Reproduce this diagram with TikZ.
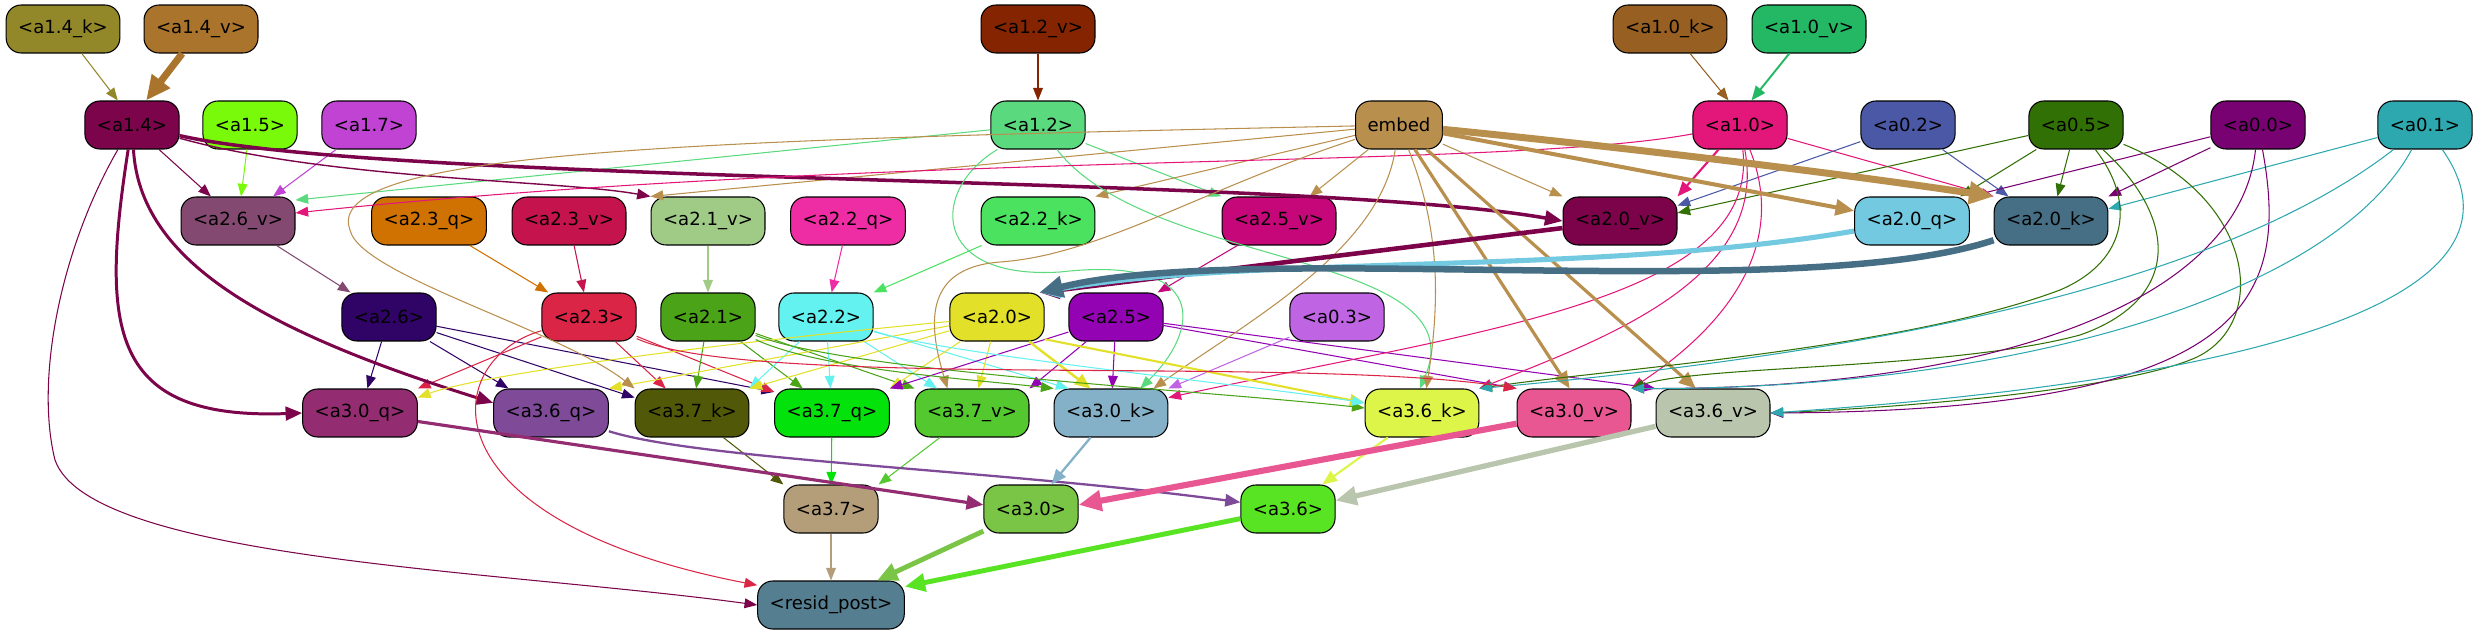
\documentclass[tikz,border=0pt]{standalone}
\usepackage{fontspec}
\setmainfont{DejaVu Sans}
\usetikzlibrary{arrows.meta}

% node colours (edges take the colour of their source node)
\definecolor{a14k}{HTML}{938829}
\definecolor{a14v}{HTML}{AB742D}
\definecolor{a12v}{HTML}{842400}
\definecolor{a10k}{HTML}{975F22}
\definecolor{a10v}{HTML}{25B864}
\definecolor{a14}{HTML}{7B044A}
\definecolor{a15}{HTML}{79FA0A}
\definecolor{a17}{HTML}{C043D3}
\definecolor{a12}{HTML}{5BD97E}
\definecolor{embed}{HTML}{B98F4E}
\definecolor{a10}{HTML}{E3167A}
\definecolor{a02}{HTML}{4A58A6}
\definecolor{a05}{HTML}{317004}
\definecolor{a00}{HTML}{780272}
\definecolor{a01}{HTML}{2EA8AF}
\definecolor{a26v}{HTML}{834970}
\definecolor{a23q}{HTML}{CF7201}
\definecolor{a23v}{HTML}{C4134D}
\definecolor{a21v}{HTML}{A0CB87}
\definecolor{a22q}{HTML}{EE2DA4}
\definecolor{a22k}{HTML}{4AE25E}
\definecolor{a25v}{HTML}{C5077A}
\definecolor{a20v}{HTML}{7C034A}
\definecolor{a20q}{HTML}{73C9DF}
\definecolor{a20k}{HTML}{466E84}
\definecolor{a26}{HTML}{300466}
\definecolor{a23}{HTML}{DA2547}
\definecolor{a21}{HTML}{4BA318}
\definecolor{a22}{HTML}{63F2F0}
\definecolor{a20}{HTML}{E2E028}
\definecolor{a25}{HTML}{9303B3}
\definecolor{a03}{HTML}{BF64E3}
\definecolor{a30q}{HTML}{932C70}
\definecolor{a36q}{HTML}{7F4A98}
\definecolor{a37k}{HTML}{515807}
\definecolor{a37q}{HTML}{03E20B}
\definecolor{a37v}{HTML}{53C92F}
\definecolor{a30k}{HTML}{84B1C8}
\definecolor{a36k}{HTML}{DDF548}
\definecolor{a30v}{HTML}{E85792}
\definecolor{a36v}{HTML}{B9C6AD}
\definecolor{a37}{HTML}{B49E7A}
\definecolor{a30}{HTML}{7AC446}
\definecolor{a36}{HTML}{58E423}
\definecolor{resid}{HTML}{557E90}

\begin{document}
\begin{tikzpicture}[
		x=0.02cm, y=-0.02cm,
		box/.style={draw=black, line width=0.6pt, rounded corners=0.3cm, minimum height=0.96cm, inner xsep=0.24cm, inner ysep=0pt, font=\fontsize{10.3}{12}\selectfont},
		link/.style={draw=#1, line width=0.6pt, -{Triangle[length=6pt 2, width=4.4pt 2]}}
		]
		
		\useasboundingbox (0,0) rectangle (2482,635);
		
		% Nodes, row by row: name / x / y / label
		\foreach \n/\x/\y/\lab in {
			a14k/63/29/<a1.4\_k>, a14v/201/29/<a1.4\_v>, a12v/1038/29/<a1.2\_v>, a10k/1670/29/<a1.0\_k>, a10v/1809/29/<a1.0\_v>,
			a14/132/125/<a1.4>, a15/250/125/<a1.5>, a17/369/125/<a1.7>, a12/1038/125/<a1.2>, embed/1399/125/embed,
			a10/1740/125/<a1.0>, a02/1908/125/<a0.2>, a05/2076/125/<a0.5>, a00/2258/125/<a0.0>, a01/2425/125/<a0.1>,
			a26v/238/221/<a2.6\_v>, a23q/429/221/<a2.3\_q>, a23v/569/221/<a2.3\_v>, a21v/708/221/<a2.1\_v>, a22q/848/221/<a2.2\_q>,
			a22k/1038/221/<a2.2\_k>, a25v/1279/221/<a2.5\_v>, a20v/1620/221/<a2.0\_v>, a20q/1912/221/<a2.0\_q>, a20k/2051/221/<a2.0\_k>,
			a26/389/317/<a2.6>, a23/589/317/<a2.3>, a21/708/317/<a2.1>, a22/826/317/<a2.2>, a20/997/317/<a2.0>,
			a25/1116/317/<a2.5>, a03/1337/317/<a0.3>,
			a30q/360/413/<a3.0\_q>, a36q/551/413/<a3.6\_q>, a37k/692/413/<a3.7\_k>, a37q/832/413/<a3.7\_q>, a37v/972/413/<a3.7\_v>,
			a30k/1111/413/<a3.0\_k>, a36k/1422/413/<a3.6\_k>, a30v/1574/413/<a3.0\_v>, a36v/1713/413/<a3.6\_v>,
			a37/831/509/<a3.7>, a30/1031/509/<a3.0>, a36/1288/509/<a3.6>,
			resid/831/605/<resid\_post>} {
			\node[box, fill=\n] (\n) at (\x, \y) {\lab};
		}
		
		% Thin straight edges
		\foreach \src/\dst in {
			a14k/a14.120, a12v/a12, a10k/a10.115,
			a14/a26v, a15/a26v, a17/a26v.35, a12/a26v.20, a12/a25v.north west,
			embed/a21v.north west, embed/a22k.north east, embed/a25v, embed/a20v.north west,
			a10/a20k.north west, a02/a20v.15, a02/a20k.150, a05/a20v.8, a05/a20q.27, a05/a20k,
			a00/a20q.north east, a00/a20k.north east, a01/a20k.12,
			a26v/a26, a23q/a23, a23v/a23, a21v/a21, a22q/a22, a22k/a22.north east, a25v/a25,
			a26/a30q, a26/a36q.150, a26/a37k.165, a26/a37q.160,
			a23/a30q.north east, a23/a37k, a23/a37q.160,
			a21/a37k, a21/a37q.140, a21/a37v.north west,
			a22/a37k.north east, a22/a37q, a22/a37v.145, a22/a30k.150,
			a20/a36q.north east, a20/a37k.north east, a20/a37q.north east, a20/a37v,
			a25/a37q.north east, a25/a37v.north east, a25/a30k, a25/a30v.north west, a25/a36v.north west,
			a03/a30k.north east,
			a37k/a37.north west, a37q/a37, a37v/a37.north east, a37/resid} {
			\draw[link=\src] (\src) -- (\dst);
		}
		
		% Edges out of the top rows
		\draw[link=a14v, line width=4pt] (a14v) -- (a14.60);
		\draw[link=a10v, line width=1.1pt] (a10v) -- (a10.65);
		\draw[link=a14, line width=0.8pt] (a14) .. controls (330,180) and (560,180) .. (a21v.north west);
		\draw[link=a14, line width=2pt] (a14) .. controls (400,185) and (1300,175) .. (a20v.west);
		\draw[link=a14, line width=1.7pt] (a14) .. controls (100,330) and (110,420) .. (a30q.west);
		\draw[link=a14, line width=1.7pt] (a14) .. controls (140,260) and (260,330) .. (a36q.170);
		\draw[link=a14] (a14) .. controls (60,250) and (35,380) .. (55,460) .. controls (90,560) and (500,570) .. (resid.west);
		\draw[link=a12] (a12) .. controls (930,190) and (930,280) .. (1060,272) .. controls (1210,255) and (1200,330) .. (a30k.40);
		\draw[link=a12] (a12) .. controls (1150,270) and (1480,250) .. (a36k.95);
		\draw[link=a10] (a10) .. controls (1500,170) and (900,150) .. (a26v.8);
		\draw[link=a10, line width=1.2pt] (a10) -- (a20v.north east);
		\draw[link=a10] (a10) .. controls (1760,300) and (1480,330) .. (a30k.15);
		\draw[link=a10] (a10) .. controls (1770,280) and (1600,340) .. (a36k.north east);
		\draw[link=a10] (a10) .. controls (1790,250) and (1720,330) .. (a30v.north east);
		
		% Edges out of embed
		\draw[link=embed] (embed) .. controls (700,140) and (320,150) .. (350,230) .. controls (360,275) and (560,330) .. (a37k.north west);
		\draw[link=embed] (embed) .. controls (1200,190) and (1100,255) .. (1000,262) .. controls (920,268) and (930,330) .. (a37v.135);
		\draw[link=embed] (embed) .. controls (1380,250) and (1250,320) .. (a30k.30);
		\draw[link=embed] (embed) .. controls (1440,230) and (1440,300) .. (a36k.80);
		\draw[link=embed, line width=2.3pt] (embed) -- (a20q.170);
		\draw[link=embed, line width=4pt] (embed) .. controls (1650,150) and (1850,175) .. (a20k.north west);
		\draw[link=embed, line width=1.8pt] (embed) -- (a30v.100);
		\draw[link=embed, line width=1.8pt] (embed) -- (a36v.125);
		
		% Long edges from a0.x
		\draw[link=a05] (a05) .. controls (2135,200) and (2130,260) .. (2060,290) .. controls (1900,350) and (1600,370) .. (a36k.north east);
		\draw[link=a05] (a05) .. controls (2180,220) and (2180,300) .. (2080,335) .. controls (1950,370) and (1700,365) .. (a30v.north east);
		\draw[link=a05] (a05) .. controls (2260,200) and (2270,330) .. (2190,360) .. controls (2100,395) and (1850,410) .. (a36v.east);
		\draw[link=a00] (a00) .. controls (2240,300) and (2000,390) .. (a30v.north east);
		\draw[link=a00] (a00) .. controls (2290,300) and (2250,410) .. (a36v.east);
		\draw[link=a01] (a01) .. controls (2200,300) and (1800,360) .. (a36k.north east);
		\draw[link=a01] (a01) .. controls (2330,300) and (2000,390) .. (a30v.north east);
		\draw[link=a01] (a01) .. controls (2520,260) and (2400,370) .. (a36v.east);
		
		% Into a2.0 and out of layer 2
		\draw[link=a20v, line width=2.6pt] (a20v) -- (a20.30);
		\draw[link=a20q, line width=2.9pt] (a20q) .. controls (1600,275) and (1250,255) .. (a20.30);
		\draw[link=a20k, line width=3.7pt] (a20k) .. controls (1800,305) and (1250,240) .. (a20.30);
		\draw[link=a20] (a20) .. controls (700,345) and (480,375) .. (a30q.15);
		\draw[link=a20, line width=1.4pt] (a20) -- (a30k.130);
		\draw[link=a20, line width=1.2pt] (a20.-25) -- (a36k.170);
		\draw[link=a21] (a21) .. controls (820,370) and (980,380) .. (a30k.north west);
		\draw[link=a21] (a21) .. controls (850,372) and (1200,390) .. (a36k.175);
		\draw[link=a22] (a22) .. controls (950,355) and (1250,385) .. (a36k.170);
		\draw[link=a23] (a23) .. controls (750,390) and (1300,355) .. (a30v.north west);
		\draw[link=a23] (a23) .. controls (440,360) and (420,520) .. (resid.165);
		
		% Layer 3 into the outputs
		\draw[link=a30q, line width=1.8pt] (a30q) -- (a30.175);
		\draw[link=a36q, line width=1.3pt] (a36q) .. controls (700,460) and (1000,470) .. (a36.172);
		\draw[link=a30k, line width=1.3pt] (a30k) -- (a30);
		\draw[link=a36k, line width=1.2pt] (a36k) -- (a36);
		\draw[link=a30v, line width=3.5pt] (a30v) -- (a30.5);
		\draw[link=a36v, line width=3pt] (a36v) -- (a36.10);
		\draw[link=a30, line width=2.8pt] (a30) -- (resid.28);
		\draw[link=a36, line width=2.8pt] (a36) -- (resid.14);
		
	\end{tikzpicture}
\end{document}
